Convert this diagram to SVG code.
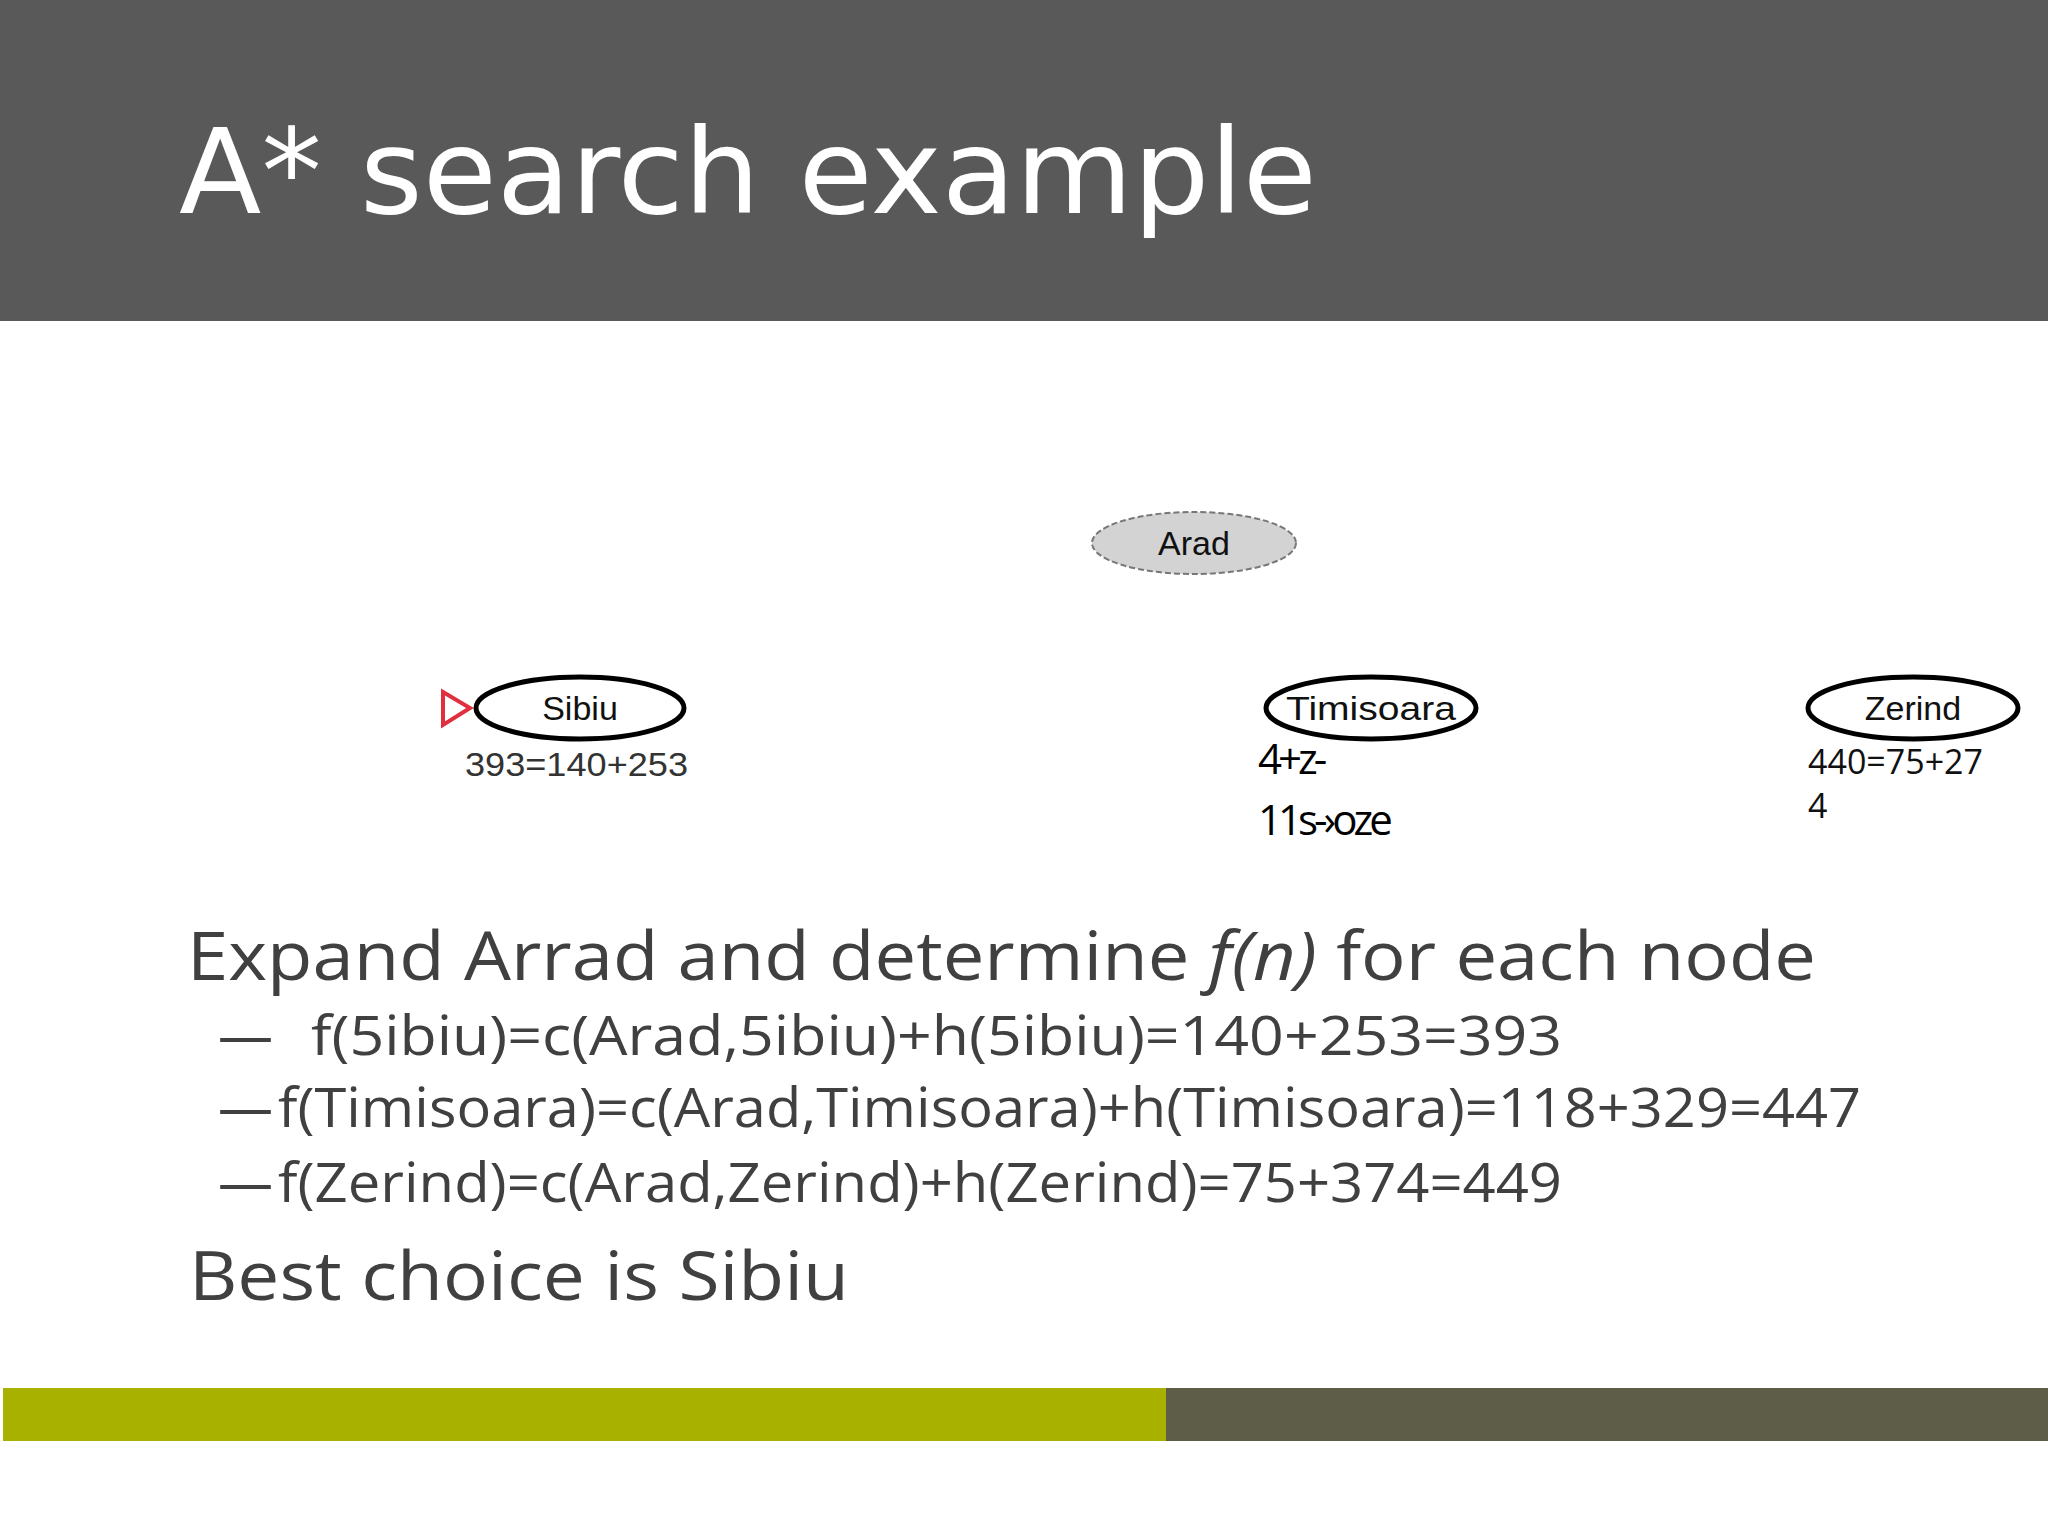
<svg xmlns="http://www.w3.org/2000/svg" width="2048" height="1536" viewBox="0 0 2048 1536">
<style>
.node ellipse{fill:#fff;stroke:#000;stroke-width:5}
.nl{font-family:"Liberation Sans",Arial,sans-serif;font-size:34px;fill:#111;text-anchor:middle}
.val{font-family:"Liberation Sans",Arial,sans-serif;font-size:34px;fill:#333}
.body{font-family:"Open Sans","Noto Sans",sans-serif;fill:#404040}
</style>
<rect width="2048" height="1536" fill="#fff"/>
<rect x="0" y="0" width="2048" height="321" fill="#595959"/>
<text x="179" y="213" font-family="'DejaVu Sans',Verdana,sans-serif" font-size="118" fill="#fff" textLength="1138" lengthAdjust="spacingAndGlyphs">A* search example</text>
<g id="connectors"></g>
<g id="arad" class="node">
<ellipse cx="1194" cy="543" rx="102" ry="31" style="fill:#d3d3d3;stroke:#777;stroke-width:2;stroke-dasharray:6 3"/>
<text class="nl" x="1194" y="555">Arad</text>
</g>
<g id="sibiu" class="node">
<polygon points="443,692 470,708 443,725" fill="none" stroke="#e03040" stroke-width="4"/>
<ellipse cx="580" cy="708" rx="104" ry="31"/>
<text class="nl" x="580" y="720">Sibiu</text>
<text class="val" x="465" y="776" textLength="223" lengthAdjust="spacingAndGlyphs">393=140+253</text>
</g>
<g id="timisoara" class="node">
<ellipse cx="1371" cy="708" rx="105" ry="31"/>
<text class="nl" x="1371" y="720" textLength="170" lengthAdjust="spacingAndGlyphs">Timisoara</text>
<text x="1258" y="774" font-family="'Open Sans',sans-serif" font-size="42" letter-spacing="-4" fill="#000">4+z-</text>
<text x="1258" y="835" font-family="'Open Sans',sans-serif" font-size="42" letter-spacing="-4" fill="#000">11s-›oze</text>
</g>
<g id="zerind" class="node">
<ellipse cx="1913" cy="708" rx="105" ry="31"/>
<text class="nl" x="1913" y="720">Zerind</text>
<text x="1808" y="774" font-family="'Open Sans',sans-serif" font-size="34" fill="#111">440=75+27</text>
<text x="1808" y="818" font-family="'Open Sans',sans-serif" font-size="34" fill="#111">4</text>
</g>
<text class="body" x="187" y="980" font-size="68" textLength="1629" lengthAdjust="spacingAndGlyphs">Expand Arrad and determine  <tspan font-style="italic">f(n)</tspan>  for each node</text>
<text class="body" x="218" y="1055" font-size="55">—</text>
<text class="body" x="311" y="1055" font-size="55" textLength="1251" lengthAdjust="spacingAndGlyphs">f(5ibiu)=c(Arad,5ibiu)+h(5ibiu)=140+253=393</text>
<text class="body" x="218" y="1127" font-size="55">—</text>
<text class="body" x="278" y="1127" font-size="55" textLength="1583" lengthAdjust="spacingAndGlyphs">f(Timisoara)=c(Arad,Timisoara)+h(Timisoara)=118+329=447</text>
<text class="body" x="218" y="1202" font-size="55">—</text>
<text class="body" x="278" y="1202" font-size="55" textLength="1284" lengthAdjust="spacingAndGlyphs">f(Zerind)=c(Arad,Zerind)+h(Zerind)=75+374=449</text>
<text class="body" x="189" y="1300" font-size="68" textLength="660" lengthAdjust="spacingAndGlyphs">Best choice is Sibiu</text>
<rect x="3" y="1388" width="1163" height="53" fill="#a8b000"/>
<rect x="1166" y="1388" width="882" height="53" fill="#5e5e48"/>
</svg>
